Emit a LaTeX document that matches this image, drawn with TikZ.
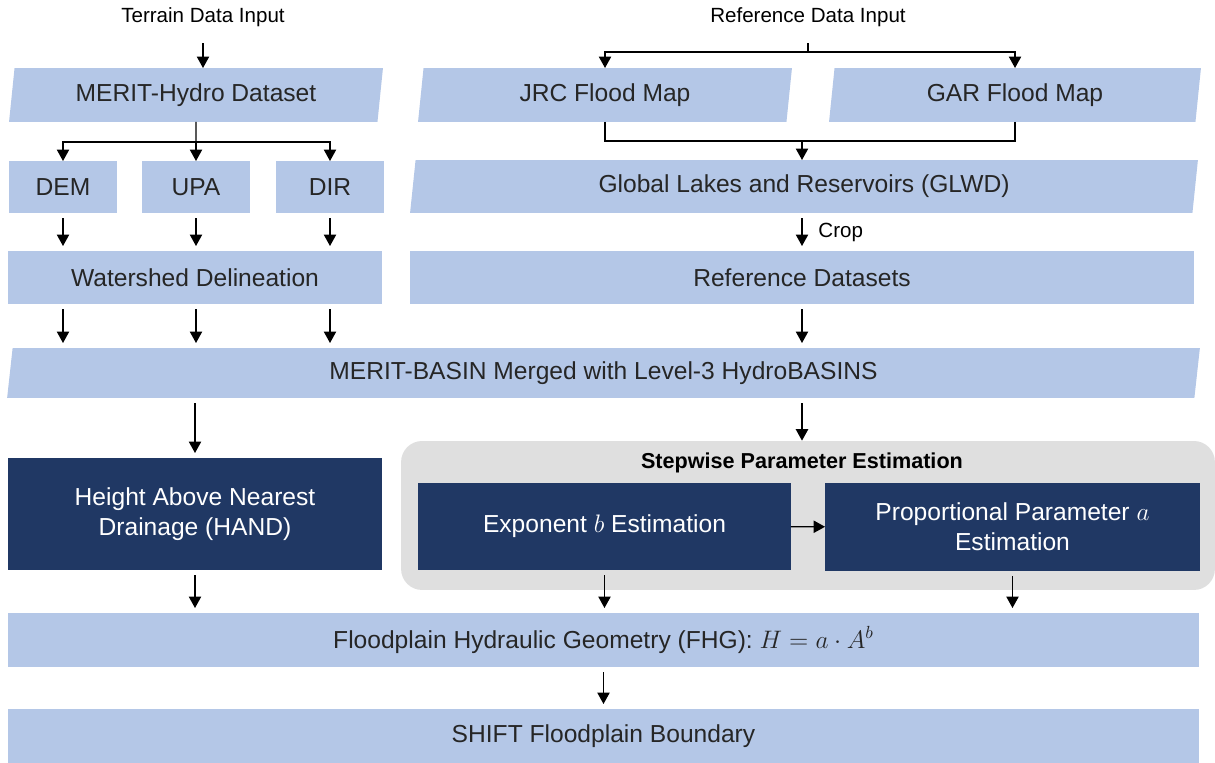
\documentclass[tikz,border=0pt]{standalone}
\usepackage{fontspec}
\setmainfont{Liberation Sans}
\usetikzlibrary{shapes.geometric,arrows.meta}
\definecolor{boxblue}{HTML}{B4C7E7}
\definecolor{boxnavy}{HTML}{203864}
\definecolor{grpgray}{HTML}{DFDFDF}
\definecolor{txtgray}{HTML}{262626}
\tikzset{
    box/.style={rectangle, fill=boxblue, text=txtgray, inner sep=0pt, outer sep=0pt,
        font=\fontsize{14}{17}\selectfont, align=center},
    datain/.style={box, trapezium, trapezium left angle=76.5, trapezium right angle=103.5,
        trapezium stretches body},
    darkbox/.style={box, fill=boxnavy, text=white},
    small/.style={font=\fontsize{11.7}{14}\selectfont, text=black},
    arr/.style={-{Triangle[length=6.5pt,width=7pt]}, line width=0.7pt},
    gap/.style={shorten <=1.1mm, shorten >=1mm}
}
\begin{document}
\begin{tikzpicture}[x=0.02cm, y=-0.02cm]
    \useasboundingbox (0,0) rectangle (1215,763);

    \node[small] (tin) at (203,17) {Terrain Data Input};
    \node[small] (rin) at (808,17) {Reference Data Input};

    \node[datain, minimum width=7.48cm, minimum height=1.08cm] (merit) at (196,95) {MERIT-Hydro Dataset};
    \node[datain, minimum width=7.48cm, minimum height=1.08cm] (jrc) at (605,95) {JRC Flood Map};
    \node[datain, minimum width=7.44cm, minimum height=1.08cm] (gar) at (1015,95) {GAR Flood Map};

    \node[box, minimum width=2.16cm, minimum height=1.04cm] (dem) at (63,187) {DEM};
    \node[box, minimum width=2.16cm, minimum height=1.04cm] (upa) at (196,187) {UPA};
    \node[box, minimum width=2.16cm, minimum height=1.04cm] (dir) at (330,187) {DIR};
    \node[datain, minimum width=15.76cm, minimum height=1.06cm] (glwd) at (804,186.5) {Global Lakes and Reservoirs (GLWD)};

    \node[box, minimum width=7.48cm, minimum height=1.06cm] (wshed) at (195,277.5) {Watershed Delineation};
    \node[box, minimum width=15.68cm, minimum height=1.06cm] (refds) at (802,277.5) {Reference Datasets};

    \node[datain, minimum width=23.86cm, minimum height=1cm] (basin) at (603.5,373) {MERIT-BASIN Merged with Level-3 HydroBASINS};

    \node[darkbox, minimum width=7.48cm, minimum height=2.24cm] (hand) at (195,514) {Height Above Nearest\\Drainage (HAND)};
    \node[rectangle, fill=grpgray, rounded corners=0.42cm, minimum width=16.28cm, minimum height=2.98cm] (grp) at (808,515.5) {};
    \node[font=\bfseries\fontsize{12.3}{14}\selectfont] (grptitle) at (802,463) {Stepwise Parameter Estimation};
    \node[darkbox, minimum width=7.46cm, minimum height=1.74cm] (expo) at (604.5,526.5) {Exponent $b$ Estimation};
    \node[darkbox, minimum width=7.5cm, minimum height=1.76cm] (prop) at (1012.5,527) {Proportional Parameter $a$\\Estimation};

    \node[box, minimum width=23.82cm, minimum height=1.08cm] (fhg) at (603.5,640) {Floodplain Hydraulic Geometry (FHG): $H = a \cdot A^b$};
    \node[box, minimum width=23.82cm, minimum height=1.08cm] (shift) at (603.5,736) {SHIFT Floodplain Boundary};

    \coordinate (msplit) at (196,142);
    \coordinate (rsplit) at (808,52);
    \coordinate (gmerge) at (802,141);

    \draw[arr, shorten <=2.1mm] (tin.south) -- (tin.south |- merit.north);
    \draw[line width=0.7pt] (merit.south) -- (msplit);
    \draw[arr] (msplit) -| (dem.north);
    \draw[arr] (msplit) -- (upa.north);
    \draw[arr] (msplit) -| (dir.north);
    \foreach \b in {dem,upa,dir}
        {\draw[arr, gap] (\b.south) -- (\b.south |- wshed.north);
         \draw[arr, gap] (\b.south |- wshed.south) -- (\b.south |- basin.north);}

    \draw[line width=0.7pt, shorten <=2.1mm] (rin.south) -- (rsplit);
    \draw[arr] (rsplit) -| (jrc.north);
    \draw[arr] (rsplit) -| (gar.north);
    \draw[line width=0.7pt] (jrc.south) |- (gmerge);
    \draw[line width=0.7pt] (gar.south) |- (gmerge);
    \draw[arr] (gmerge) -- (gmerge |- glwd.north);
    \draw[arr, gap] (refds.north |- glwd.south) -- (refds.north) node[small, midway, right=0.2cm] {Crop};
    \draw[arr, gap] (refds.south) -- (refds.south |- basin.north);

    \draw[arr, gap] (hand.north |- basin.south) -- (hand.north);
    \draw[arr, shorten <=1.1mm] (grptitle.north |- basin.south) -- (grptitle.north |- grp.north);
    \draw[arr] (expo) -- (prop);
    \foreach \b in {hand,expo,prop}
        {\draw[arr, gap] (\b.south) -- (\b.south |- fhg.north);}
    \draw[arr, gap] (fhg.south) -- (shift.north);
\end{tikzpicture}
\end{document}
